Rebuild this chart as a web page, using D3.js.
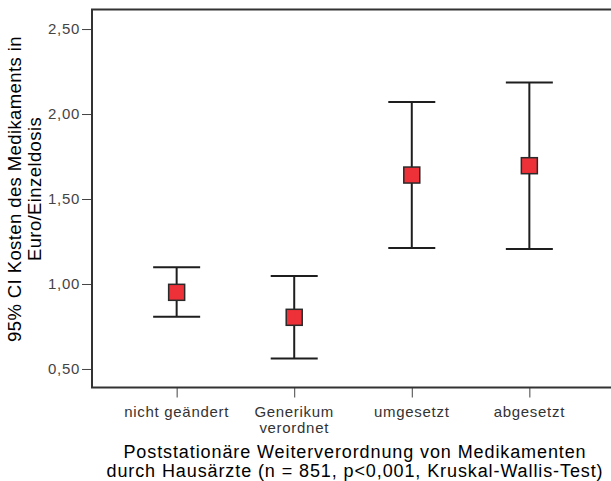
<!DOCTYPE html>
<html>
<head>
<meta charset="utf-8">
<script src="https://cdn.jsdelivr.net/npm/d3@7"></script>
<style>
  body { margin: 0; background: #fff; }
  svg { display: block; font-family: "Liberation Sans", Arial, sans-serif; }
</style>
</head>
<body>
<div class="chart"></div>
<script>
// data
var categories = ["nicht geändert", "Generikum\nverordnet", "umgesetzt", "abgesetzt"];
var means = [0.951, 0.804, 1.641, 1.696];
var lower = [0.808, 0.561, 1.212, 1.206];
var upper = [1.098, 1.047, 2.071, 2.186];
var yTicks = [0.5, 1.0, 1.5, 2.0, 2.5];
var yTitle = ["95% CI Kosten des Medikaments in", "Euro/Einzeldosis"];
var xTitle = ["Poststationäre Weiterverordnung von Medikamenten",
              "durch Hausärzte (n = 851, p<0,001, Kruskal-Wallis-Test)"];

var svgWidth = 611;
var svgHeight = 481;
var plot = {left: 92, top: 9.5, right: 614, bottom: 387.5};

var svg = d3.select(".chart")
    .append("svg")
    .attr("width", svgWidth)
    .attr("height", svgHeight);

var rows = categories.map(function(c, i) {
    return {cat: c, mean: means[i], lo: lower[i], hi: upper[i]};
});

var x = d3.scalePoint()
    .domain(categories)
    .range([plot.left, plot.right])
    .padding(0.72);

var y = d3.scaleLinear()
    .domain([0.391, 2.615])
    .range([plot.bottom, plot.top]);

var fmt = function(d) { return d3.format(".2f")(d).replace(".", ","); };

// y axis
var yAxis = svg.append("g")
    .attr("transform", "translate(" + plot.left + ",0)")
    .call(d3.axisLeft(y).tickValues(yTicks).tickFormat(fmt).tickSize(10).tickPadding(2));
yAxis.select(".domain").remove();
yAxis.selectAll("line").attr("stroke", "#444");
yAxis.selectAll("text")
    .attr("fill", "#444")
    .style("font-size", "15px")
    .style("letter-spacing", "0.7px")
    .style("font-family", "Liberation Sans, Arial, sans-serif");

// x axis
var xAxis = svg.append("g")
    .attr("transform", "translate(0," + plot.bottom + ")")
    .call(d3.axisBottom(x).tickSize(10).tickFormat(""));
xAxis.select(".domain").remove();
xAxis.selectAll("line").attr("stroke", "#444");

// category labels, possibly two lines
svg.append("g").selectAll("text")
    .data(categories)
    .enter()
    .append("text")
    .attr("text-anchor", "middle")
    .attr("fill", "#333")
    .style("font-size", "15px")
    .style("letter-spacing", "0.7px")
    .each(function(d) {
        var t = d3.select(this);
        d.split("\n").forEach(function(line, k) {
            t.append("tspan")
                .attr("x", x(d))
                .attr("y", 416.5 + k * 16.5)
                .text(line);
        });
    });

// frame
svg.append("rect")
    .attr("x", plot.left)
    .attr("y", plot.top)
    .attr("width", plot.right - plot.left)
    .attr("height", plot.bottom - plot.top)
    .attr("fill", "none")
    .attr("stroke", "#333")
    .attr("stroke-width", 2);

// error bars
var capHalf = 23.5;
var bars = svg.append("g")
    .selectAll("g")
    .data(rows)
    .enter()
    .append("g")
    .attr("stroke", "#1e1e1e")
    .attr("stroke-width", 2);

bars.append("line")
    .attr("x1", function(d) { return x(d.cat); })
    .attr("x2", function(d) { return x(d.cat); })
    .attr("y1", function(d) { return y(d.lo); })
    .attr("y2", function(d) { return y(d.hi); });

bars.append("line")
    .attr("x1", function(d) { return x(d.cat) - capHalf; })
    .attr("x2", function(d) { return x(d.cat) + capHalf; })
    .attr("y1", function(d) { return y(d.hi); })
    .attr("y2", function(d) { return y(d.hi); });

bars.append("line")
    .attr("x1", function(d) { return x(d.cat) - capHalf; })
    .attr("x2", function(d) { return x(d.cat) + capHalf; })
    .attr("y1", function(d) { return y(d.lo); })
    .attr("y2", function(d) { return y(d.lo); });

// mean markers
var sq = 16;
svg.append("g")
    .selectAll("rect")
    .data(rows)
    .enter()
    .append("rect")
    .attr("x", function(d) { return x(d.cat) - sq / 2; })
    .attr("y", function(d) { return y(d.mean) - sq / 2; })
    .attr("width", sq)
    .attr("height", sq)
    .attr("fill", "#ee3139")
    .attr("stroke", "#2a2a2a")
    .attr("stroke-width", 1.5);

// axis titles
var cx = 355;
svg.append("text")
    .attr("text-anchor", "middle")
    .attr("fill", "#000")
    .style("font-size", "18px")
    .style("letter-spacing", "0.9px")
    .selectAll("tspan")
    .data(xTitle)
    .enter()
    .append("tspan")
    .attr("x", cx)
    .attr("y", function(d, i) { return 458 + i * 19; })
    .text(function(d) { return d; });

svg.append("text")
    .attr("text-anchor", "middle")
    .attr("transform", "rotate(-90)")
    .attr("fill", "#000")
    .style("font-size", "18.5px")
    .style("letter-spacing", "0.4px")
    .selectAll("tspan")
    .data(yTitle)
    .enter()
    .append("tspan")
    .attr("x", -189)
    .attr("y", function(d, i) { return 21 + i * 19.5; })
    .text(function(d) { return d; });
</script>
</body>
</html>
